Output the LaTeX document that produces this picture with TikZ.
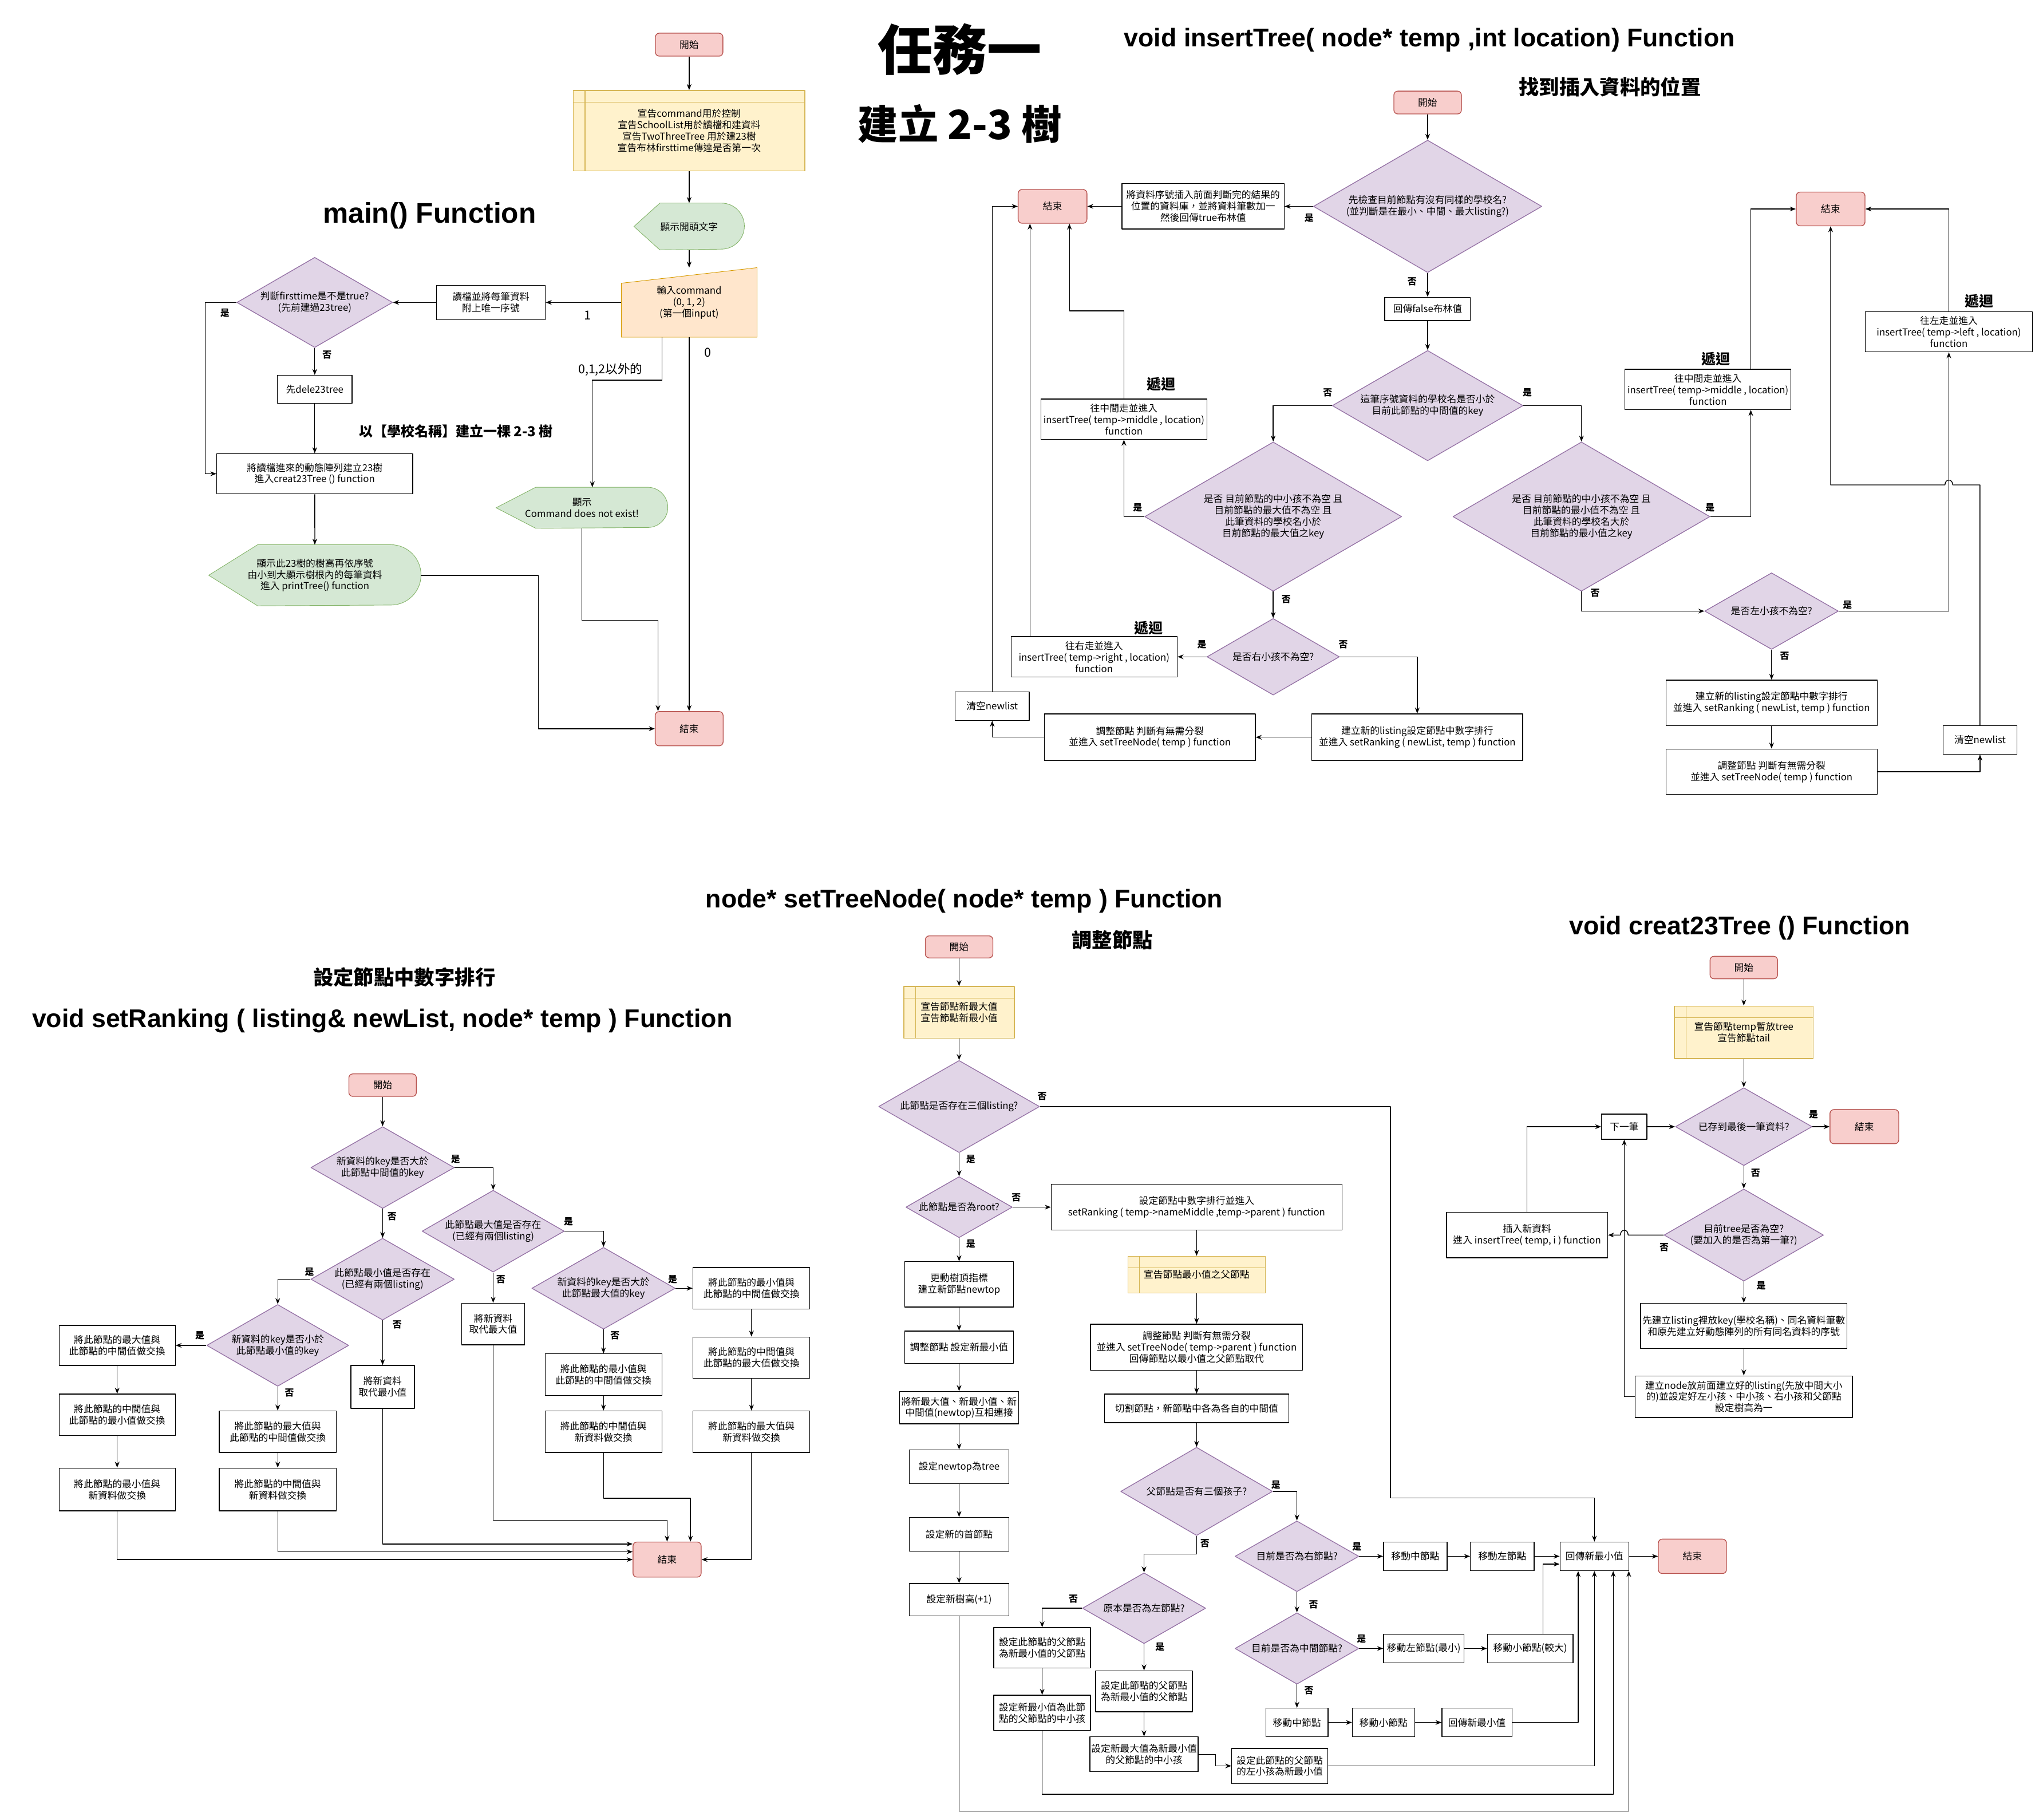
\documentclass[tikz,border=0pt]{standalone}
\usepackage{fontspec}
\setmainfont{Noto Sans CJK TC}
\newfontfamily\latinbold{Liberation Sans}
\usetikzlibrary{shapes.geometric,arrows.meta,backgrounds}
\definecolor{endfill}{HTML}{F8CECC}
\definecolor{endline}{HTML}{B85450}
\definecolor{declfill}{HTML}{FFF2CC}
\definecolor{declline}{HTML}{D6B656}
\definecolor{showfill}{HTML}{D5E8D4}
\definecolor{showline}{HTML}{82B366}
\definecolor{askfill}{HTML}{E1D5E7}
\definecolor{askline}{HTML}{9673A6}
\definecolor{inputfill}{HTML}{FFE6CC}
\definecolor{inputline}{HTML}{D79B00}
\begin{document}
\begin{tikzpicture}[x=1pt,y=-1pt,line width=0.6pt,line join=round,>={Stealth[length=4.6pt,width=3.6pt]},
  font=\fontsize{7.4}{8.8}\selectfont,
  every node/.style={align=center,inner sep=1pt},
  wh/.style 2 args={minimum width=#1pt,minimum height=#2pt},
  term/.style={draw=endline,fill=endfill,rounded corners=3pt},
  proc/.style={draw,fill=white},
  decl/.style={draw=declline,fill=declfill,path picture={
    \draw[declline] ([xshift=9pt]path picture bounding box.north west) -- ([xshift=9pt]path picture bounding box.south west)
      ([yshift=-9pt]path picture bounding box.north west) -- ([yshift=-9pt]path picture bounding box.north east);}},
  ask/.style={diamond,aspect=1.74,draw=askline,fill=askfill,inner sep=0pt},
  flat/.style={inner sep=0pt},
  yn/.style={font=\fontsize{7}{8}\selectfont\bfseries},
  big/.style={font=\fontsize{9.5}{11}\selectfont},
  recur/.style={font=\fontsize{11}{13}\selectfont\bfseries},
  functitle/.style={font=\latinbold\bfseries\fontsize{19.7}{22}\selectfont},
  cjktitle/.style={font=\fontsize{15.6}{18}\selectfont\bfseries}]
\useasboundingbox (0,0) rectangle (1568,1402);

\node[font=\fontsize{42}{46}\selectfont\bfseries] (task) at (739.5,38) {任務一};
\node[font=\fontsize{31}{34}\selectfont\bfseries] (tasksub) at (739.5,95.5) {建立 2-3 樹};
\node[functitle,font=\latinbold\bfseries\fontsize{21.9}{24}\selectfont] (tmain) at (331,166) {main() Function};
\node[font=\fontsize{10.6}{12}\selectfont\bfseries] (tmainsub) at (351.5,332) {以【學校名稱】建立一棵 2-3 樹};
\node[functitle] (tinsert) at (1101.5,31) {void insertTree( node* temp ,int location) Function};
\node[cjktitle] (tinsertsub) at (1240.5,67) {找到插入資料的位置};
\node[cjktitle] (trankingsub) at (311.5,753) {設定節點中數字排行};
\node[functitle] (tranking) at (294.5,786.5) {void setRanking ( listing\& newList, node* temp ) Function};
\node[functitle] (tsetnode) at (743,694) {node* setTreeNode( node* temp ) Function};
\node[cjktitle] (tsetnodesub) at (857,724) {調整節點};
\node[functitle] (tcreat) at (1340.5,715) {void creat23Tree () Function};

\node[term,wh={52}{17.7}] (start1) at (531,34.4) {開始};
\node[decl,wh={178.4}{62}] (decl1) at (531,100.7) {宣告command用於控制\\宣告SchoolList用於讀檔和建資料\\宣告TwoThreeTree 用於建23樹\\宣告布林firsttime傳達是否第一次};
\node[flat,wh={84.5}{35.5}] (show1) at (531,174.5) {顯示開頭文字};
\node[flat,wh={104}{53}] (input1) at (531,233) {輸入command\\(0, 1, 2)\\(第一個input)};
\node[proc,wh={84}{26.5}] (read1) at (378.2,233) {讀檔並將每筆資料\\附上唯一序號};
\node[ask,wh={120}{69.5}] (ask1) at (242.5,233) {判斷firsttime是不是true?\\(先前建過23tree)};
\node[proc,wh={57.5}{21.6}] (dele1) at (242.5,300) {先dele23tree};
\node[proc,wh={151}{31}] (build1) at (242.5,365) {將讀檔進來的動態陣列建立23樹\\進入creat23Tree () function};
\node[flat,wh={163}{46.5}] (print1) at (242.6,443.2) {顯示此23樹的樹高再依序號\\由小到大顯示樹根內的每筆資料\\進入 printTree() function};
\node[flat,wh={131.7}{31}] (cmd1) at (448.4,391.2) {顯示\\Command does not exist!};
\node[term,wh={52.3}{26.4}] (end1) at (531,561.4) {結束};

\node[term,wh={52}{17.6}] (start2) at (1100,79) {開始};
\node[ask,wh={176}{102}] (ask2) at (1100,159) {先檢查目前節點有沒有同樣的學校名?\\(並判斷是在最小、中間、最大listing?)};
\node[proc,wh={125}{35}] (same1) at (927,159) {將資料序號插入前面判斷完的結果的\\位置的資料庫，並將資料筆數加一\\然後回傳true布林值};
\node[term,wh={53}{26}] (end2) at (811,159) {結束};
\node[proc,wh={66}{18}] (ret1) at (1100,238) {回傳false布林值};
\node[ask,wh={147}{85}] (ask3) at (1100,312.5) {這筆序號資料的學校名是否小於\\目前此節點的中間值的key};
\node[ask,wh={198}{115}] (ask4) at (981,398) {是否 目前節點的中小孩不為空 且\\目前節點的最大值不為空 且\\此筆資料的學校名小於\\目前節點的最大值之key};
\node[proc,wh={128}{31}] (mid1) at (866,323) {往中間走並進入\\insertTree( temp->middle , location)\\function};
\node[ask,wh={102}{59}] (ask6) at (981,506) {是否右小孩不為空?};
\node[proc,wh={128}{31}] (right1) at (843,506) {往右走並進入\\insertTree( temp->right , location)\\function};
\node[proc,wh={162.4}{36}] (rank1) at (1092,568) {建立新的listing設定節點中數字排行\\並進入 setRanking ( newList, temp ) function};
\node[proc,wh={162.5}{36}] (adj1) at (886,568) {調整節點 判斷有無需分裂\\並進入 setTreeNode( temp ) function};
\node[proc,wh={57}{22}] (clear1) at (764.5,544) {清空newlist};
\node[ask,wh={198}{115}] (ask5) at (1218.5,398) {是否 目前節點的中小孩不為空 且\\目前節點的最小值不為空 且\\此筆資料的學校名大於\\目前節點的最小值之key};
\node[proc,wh={128}{31}] (mid2) at (1316,300) {往中間走並進入\\insertTree( temp->middle , location)\\function};
\node[term,wh={53}{26}] (end3) at (1410.5,161) {結束};
\node[ask,wh={103}{59}] (ask7) at (1365,470.8) {是否左小孩不為空?};
\node[proc,wh={129}{31}] (left1) at (1501.6,255.6) {往左走並進入\\insertTree( temp->left , location)\\function};
\node[proc,wh={162.7}{35}] (rank2) at (1365,541.5) {建立新的listing設定節點中數字排行\\並進入 setRanking ( newList, temp ) function};
\node[proc,wh={162.7}{35}] (adj2) at (1365,594.5) {調整節點 判斷有無需分裂\\並進入 setTreeNode( temp ) function};
\node[proc,wh={57}{22}] (clear2) at (1525.6,570) {清空newlist};

\node[term,wh={52}{17.3}] (start3) at (294.8,836) {開始};
\node[ask,wh={110.5}{63}] (ask8) at (294.8,899.5) {新資料的key是否大於\\此節點中間值的key};
\node[ask,wh={110.5}{63}] (ask9) at (294.8,985.5) {此節點最小值是否存在\\(已經有兩個listing)};
\node[ask,wh={109.4}{63}] (ask10) at (214,1036.5) {新資料的key是否小於\\此節點最小值的key};
\node[proc,wh={89.5}{31}] (sw1) at (90.3,1036.5) {將此節點的最大值與\\此節點的中間值做交換};
\node[proc,wh={89.5}{32}] (sw2) at (90.3,1090) {將此節點的中間值與\\此節點的最小值做交換};
\node[proc,wh={89.5}{33}] (sw3) at (90.3,1147.5) {將此節點的最小值與\\新資料做交換};
\node[proc,wh={90}{32}] (sw4) at (214,1103) {將此節點的最大值與\\此節點的中間值做交換};
\node[proc,wh={90}{33}] (sw5) at (214,1147.5) {將此節點的中間值與\\新資料做交換};
\node[proc,wh={49}{33}] (rep1) at (294.8,1068.5) {將新資料\\取代最小值};
\node[term,wh={52.5}{27}] (end4) at (514,1201.5) {結束};
\node[ask,wh={109.5}{63}] (ask11) at (380,948.5) {此節點最大值是否存在\\(已經有兩個listing)};
\node[proc,wh={48.5}{32}] (rep2) at (380,1020) {將新資料\\取代最大值};
\node[ask,wh={110.5}{63}] (ask12) at (465,992.5) {新資料的key是否大於\\此節點最大值的key};
\node[proc,wh={90}{32}] (sw6) at (579,992.5) {將此節點的最小值與\\此節點的中間值做交換};
\node[proc,wh={90}{32}] (sw7) at (579,1046) {將此節點的中間值與\\此節點的最大值做交換};
\node[proc,wh={90}{32}] (sw8) at (579,1103) {將此節點的最大值與\\新資料做交換};
\node[proc,wh={90}{32}] (sw9) at (465,1059) {將此節點的最小值與\\此節點的中間值做交換};
\node[proc,wh={90}{32}] (sw10) at (465,1103) {將此節點的中間值與\\新資料做交換};

\node[term,wh={52}{17}] (start4) at (739,729.5) {開始};
\node[decl,wh={85}{40}] (decl2) at (739,780) {宣告節點新最大值\\宣告節點新最小值};
\node[ask,wh={124}{71}] (ask13) at (739,852.5) {此節點是否存在三個listing?};
\node[ask,wh={82}{47}] (ask14) at (739,930) {此節點是否為root?};
\node[proc,wh={224}{35.4}] (rank3) at (922,930) {設定節點中數字排行並進入\\setRanking ( temp->nameMiddle ,temp->parent ) function};
\node[decl,wh={106}{28.4}] (decl3) at (922,982) {宣告節點最小值之父節點};
\node[proc,wh={163.5}{35.6}] (adj3) at (922,1038) {調整節點 判斷有無需分裂\\並進入 setTreeNode( temp->parent ) function\\回傳節點以最小值之父節點取代};
\node[proc,wh={142}{22}] (cut1) at (922,1085) {切割節點，新節點中各為各自的中間值};
\node[ask,wh={117}{68}] (ask15) at (922,1149) {父節點是否有三個孩子?};
\node[ask,wh={95.4}{54.5}] (ask16) at (999.3,1199) {目前是否為右節點?};
\node[proc,wh={49}{22}] (mv1) at (1090.5,1199) {移動中節點};
\node[proc,wh={49}{22}] (mv2) at (1157.5,1199) {移動左節點};
\node[proc,wh={53}{22}] (retmin1) at (1228.5,1199) {回傳新最小值};
\node[term,wh={52.5}{26.5}] (end5) at (1304,1199) {結束};
\node[ask,wh={95.4}{55}] (ask17) at (999.3,1270) {目前是否為中間節點?};
\node[proc,wh={62}{22}] (mv3) at (1097,1270) {移動左節點(最小)};
\node[proc,wh={66}{22}] (mv4) at (1179,1270) {移動小節點(較大)};
\node[proc,wh={48}{22}] (mv5) at (999.3,1327) {移動中節點};
\node[proc,wh={48}{22}] (mv6) at (1066,1327) {移動小節點};
\node[proc,wh={54}{22}] (ret2) at (1138,1327) {回傳新最小值};
\node[ask,wh={95}{54.5}] (ask18) at (881.5,1239) {原本是否為左節點?};
\node[proc,wh={74.5}{31}] (par1) at (803,1269.5) {設定此節點的父節點\\為新最小值的父節點};
\node[proc,wh={74.5}{27}] (par2) at (803,1319.5) {設定新最小值為此節\\點的父節點的中小孩};
\node[proc,wh={74.6}{31.5}] (par3) at (881.5,1303) {設定此節點的父節點\\為新最小值的父節點};
\node[proc,wh={83}{27}] (par4) at (881.5,1351.5) {設定新最大值為新最小值\\的父節點的中小孩};
\node[proc,wh={74}{27}] (par5) at (986,1360.5) {設定此節點的父節點\\的左小孩為新最小值};
\node[proc,wh={84}{35}] (top1) at (739,989.5) {更動樹頂指標\\建立新節點newtop};
\node[proc,wh={84}{25}] (top2) at (739,1038) {調整節點 設定新最小值};
\node[proc,wh={92}{25}] (top3) at (739,1084.5) {將新最大值、新最小值、新\\中間值(newtop)互相連接};
\node[proc,wh={77}{26}] (top4) at (739,1130) {設定newtop為tree};
\node[proc,wh={77}{26}] (top5) at (739,1182) {設定新的首節點};
\node[proc,wh={77}{25}] (top6) at (739,1232.5) {設定新樹高(+1)};

\node[term,wh={52}{17.3}] (start5) at (1343.6,745.4) {開始};
\node[decl,wh={107}{40.5}] (decl4) at (1343.6,795.3) {宣告節點temp暫放tree\\宣告節點tail};
\node[ask,wh={105.3}{60}] (ask19) at (1343.6,868) {已存到最後一筆資料?};
\node[term,wh={53}{26.3}] (end6) at (1436.5,868) {結束};
\node[ask,wh={122.8}{71}] (ask20) at (1343.6,951.5) {目前tree是否為空?\\(要加入的是否為第一筆?)};
\node[proc,wh={124.2}{35}] (ins1) at (1176.6,951.5) {插入新資料\\進入 insertTree( temp, i ) function};
\node[proc,wh={35}{19.3}] (next1) at (1251.5,868) {下一筆};
\node[proc,wh={159}{35}] (lst1) at (1343.6,1021.5) {先建立listing裡放key(學校名稱)、同名資料筆數\\和原先建立好動態陣列的所有同名資料的序號};
\node[proc,wh={167.5}{32}] (nd1) at (1343.6,1076) {建立node放前面建立好的listing(先放中間大小\\的)並設定好左小孩、中小孩、右小孩和父節點\\設定樹高為一};

\foreach \t/\x/\y [count=\k] in {是/173.2/241.3,否/252/273.5,
  是/1008.6/168,否/1088/217,否/1023/302.6,是/1176.8/302.6,是/876.5/391,否/991/461.7,是/926/496.7,否/1035/496.7,
  是/1317.6/391,否/1229/457,是/1423.5/466,否/1375/505.6,
  否/302/937,是/351/893,是/238.4/980,否/306/1020.6,是/154/1029,否/223/1073,是/438/941,否/385.8/985.5,是/518.3/985.5,否/473.8/1029,
  否/803/844.6,是/748/893,否/783/922.6,是/748/958.4,是/983/1143.8,否/928.3/1189.2,是/1045.5/1191.8,否/1012/1236.3,
  是/1049/1262.6,否/1008.5/1302.3,否/827/1231.7,是/893.7/1269,
  是/1397.3/858.5,否/1352.7/903.5,否/1282.2/961,是/1357/990.3}
  \node[yn] (yn\k) at (\x,\y) {\t};
\foreach \x/\y [count=\k] in {894.6/295.8,885/484,1322/276.6,1525/232}
  \node[recur] (rec\k) at (\x,\y) {遞迴};
\node[big] (opt1) at (452.6,243) {1};
\node[big] (opt0) at (545.4,271.6) {0};
\node[big] (optx) at (470.3,284.5) {0,1,2以外的};

\foreach \a/\b in {start1/decl1,decl1/show1,show1/input1,input1/read1,read1/ask1,ask1/dele1,dele1/build1,build1/print1,input1/end1,
  start2/ask2,ask2/same1,same1/end2,ask2/ret1,ret1/ask3,ask4/ask6,ask6/right1,rank1/adj1,ask7/rank2,rank2/adj2,
  start3/ask8,ask8/ask9,ask10/sw1,sw1/sw2,sw2/sw3,ask10/sw4,sw4/sw5,ask9/rep1,ask11/rep2,ask12/sw6,sw6/sw7,sw7/sw8,ask12/sw9,sw9/sw10,
  start4/decl2,decl2/ask13,ask13/ask14,ask14/rank3,rank3/decl3,decl3/adj3,adj3/cut1,cut1/ask15,ask16/mv1,mv1/mv2,mv2/retmin1,retmin1/end5,
  ask16/ask17,ask17/mv3,mv3/mv4,ask17/mv5,mv5/mv6,mv6/ret2,ask18/par3,par3/par4,par1/par2,
  ask14/top1,top1/top2,top2/top3,top3/top4,top4/top5,top5/top6,
  start5/decl4,decl4/ask19,ask19/end6,ask19/ask20,ask20/lst1,lst1/nd1,next1/ask19}
  \draw[->] (\a) -- (\b);

\draw[->] (ask1.west) -- ++(-24.2,0) |- (build1.west);
\draw[->] (print1.east) -- ++(90.5,0) |- (end1.west);
\draw[->] ([xshift=-21pt]input1.south) -- ++(0,33) -| ([xshift=8pt]cmd1.north);
\draw[->] (cmd1.south) -- ++(0,71) -| ([xshift=-24pt]end1.north);

\draw[->] (ask3.west) -| (ask4.north);
\draw[->] (ask3.east) -| (ask5.north);
\draw[->] (ask4.west) -| (mid1.south);
\draw[->] (mid1.north) -- ++(0,-67.7) -| ([xshift=13pt]end2.south);
\draw[->] ([xshift=-49.4pt]right1.north) -- ([xshift=-17.4pt]end2.south);
\draw[->] (ask6.east) -| (rank1.north);
\draw[->] (adj1.west) -| (clear1.south);
\draw[->] (clear1.north) |- (end2.west);
\draw[->] (ask5.east) -| ([xshift=33pt]mid2.south);
\draw[->] ([xshift=33pt]mid2.north) |- (end3.west);
\draw[->] (ask5.south) |- (ask7.west);
\draw[->] (ask7.east) -| (left1.south);
\draw[->] (left1.north) |- (end3.east);
\draw[->] (adj2.east) -| (clear2.south);
\draw[->] (clear2.north) |- (1504.6,373.6) .. controls (1504.6,368.6) and (1498.6,368.6) .. (1498.6,373.6) -| (end3.south);

\draw[->] (ask9.west) -| (ask10.north);
\draw[->] (ask8.east) -| (ask11.north);
\draw[->] (ask11.east) -| (ask12.north);
\draw[->] (rep1.south) |- ([yshift=12pt]end4.west);
\draw[->] (sw5.south) |- ([yshift=6pt]end4.west);
\draw[->] (sw3.south) |- (end4.west);
\draw[->] (rep2.south) -- ++(0,135) -| (end4.north);
\draw[->] (sw10.south) -- ++(0,35) -| ([xshift=18pt]end4.north);
\draw[->] (sw8.south) |- (end4.east);

\draw[->] (ask13.east) -- ++(270,0) -- ++(0,301.5) -| (retmin1.north);
\draw[->] (ask15.east) -| (ask16.north);
\draw[->] ([xshift=10pt]mv4.north) |- ([yshift=-6pt]retmin1.west);
\draw[->] (ret2.east) -| ([xshift=-12.5pt]retmin1.south);
\draw[->] (ask15.south) -- ++(0,14) -| (ask18.north);
\draw[->] (ask18.west) -| (par1.north);
\draw[->] (par2.south) -- ++(0,49) -| ([xshift=14.5pt]retmin1.south);
\draw[->] (par4.east) -- ++(13,0) |- (par5.west);
\draw[->] (par5.east) -| (retmin1.south);
\draw[->] (top6.south) -- ++(0,150) -| ([xshift=26.5pt]retmin1.south);

\draw[->] (ask20.west) -- (1254.5,951.5) .. controls (1254.5,946.5) and (1248.5,946.5) .. (1248.5,951.5) -- (ins1.east);
\draw[->] (ins1.north) |- (next1.west);
\draw[->] (nd1.west) -| (next1.south);

\begin{scope}[on background layer]
\fill[white] (0,0) rectangle (1568,1402);
\foreach \n/\i/\r in {show1/20pt/17.75pt,cmd1/30.5pt/15.5pt,print1/37.7pt/23.25pt}
  \filldraw[draw=showline,fill=showfill] (\n.west) -- ([xshift=\i]\n.north west) -- ([xshift=-\r]\n.north east)
    arc[start angle=90,end angle=-90,radius=\r] -- ([xshift=\i]\n.south west) -- cycle;
\filldraw[draw=inputline,fill=inputfill] (input1.south west) -- ([yshift=-12pt]input1.north west) -- (input1.north east) -- (input1.south east) -- cycle;
\end{scope}
\end{tikzpicture}
\end{document}
